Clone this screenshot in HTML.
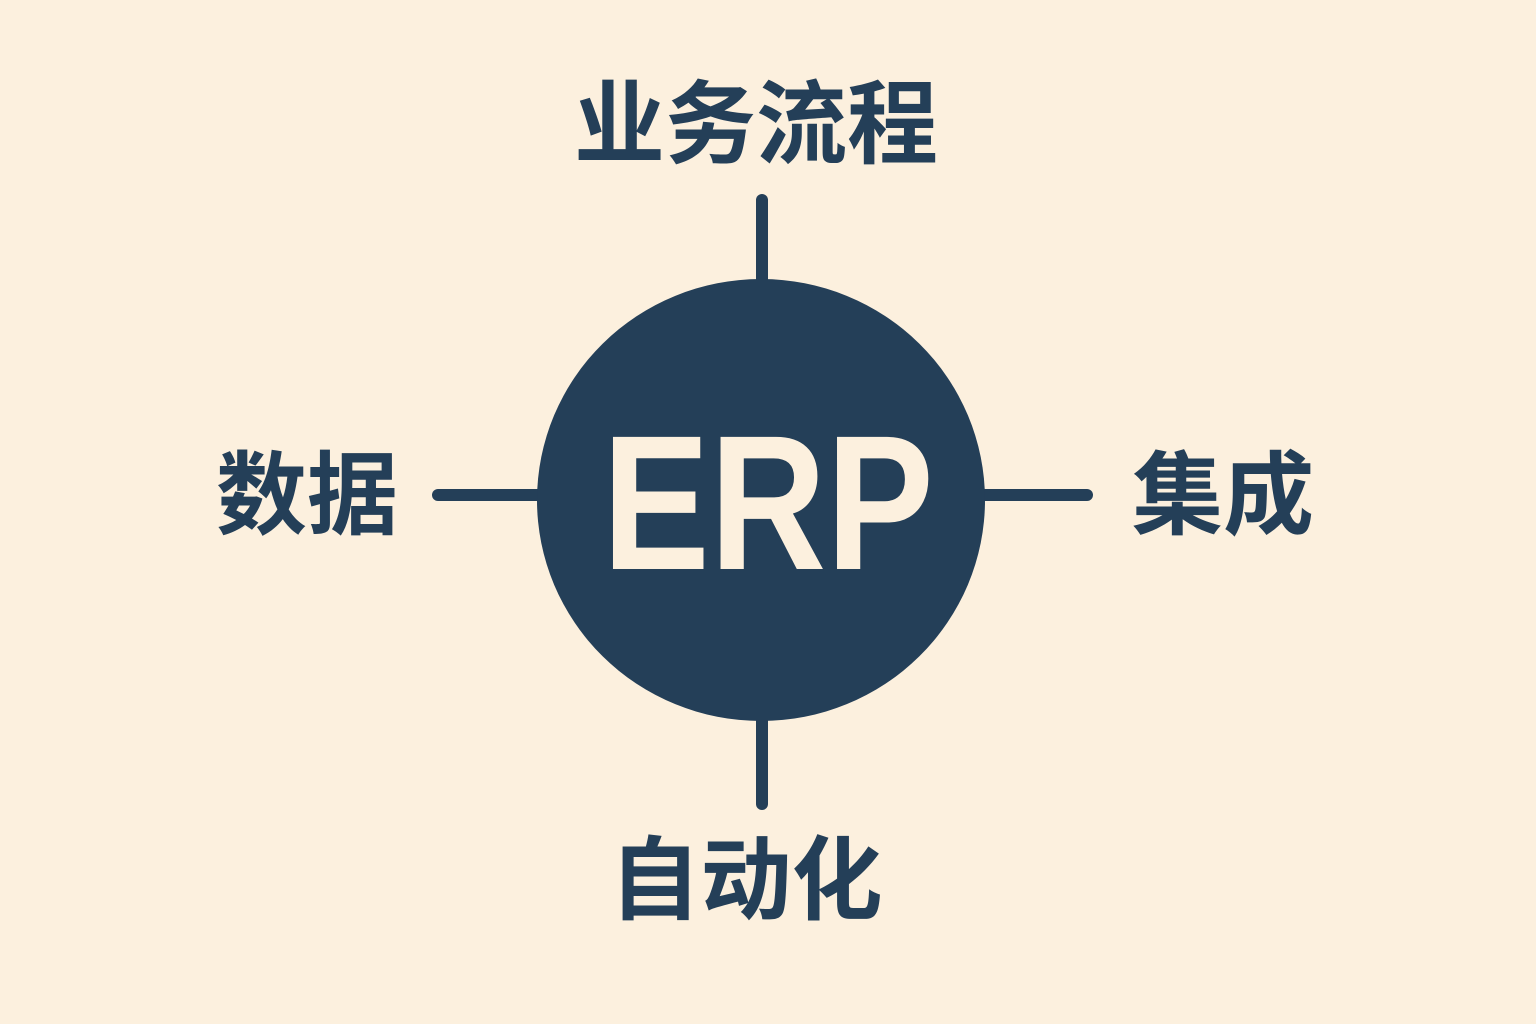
<!DOCTYPE html>
<html><head><meta charset="utf-8"><style>
html,body{margin:0;padding:0;background:#fcf0de;}
svg{display:block}
</style></head><body>
<svg width="1536" height="1024" viewBox="0 0 1536 1024" xmlns="http://www.w3.org/2000/svg">
<rect width="1536" height="1024" fill="#fcf0de"/>
<g stroke="#243f58" stroke-width="12" stroke-linecap="round">
<line x1="762" y1="200" x2="762" y2="290"/>
<line x1="762" y1="712" x2="762" y2="804"/>
<line x1="438" y1="495" x2="545" y2="495"/>
<line x1="978" y1="495" x2="1087" y2="495"/>
</g>
<ellipse cx="761" cy="500" rx="224" ry="221" fill="#243f58"/>
<text x="0" y="0" transform="translate(768,569) scale(0.84,1)" text-anchor="middle" font-family="Liberation Sans, sans-serif" font-weight="bold" font-size="192" fill="#fcf0de">ERP</text>
<g font-family="Liberation Sans, Noto Sans CJK SC, sans-serif" font-weight="bold" fill="#243f58" text-anchor="middle" font-size="91">
<text x="756" y="156">业务流程</text>
<text x="307" y="527">数据</text>
<text x="1223" y="527">集成</text>
<text x="746" y="912">自动化</text>
</g>
</svg>
</body></html>
